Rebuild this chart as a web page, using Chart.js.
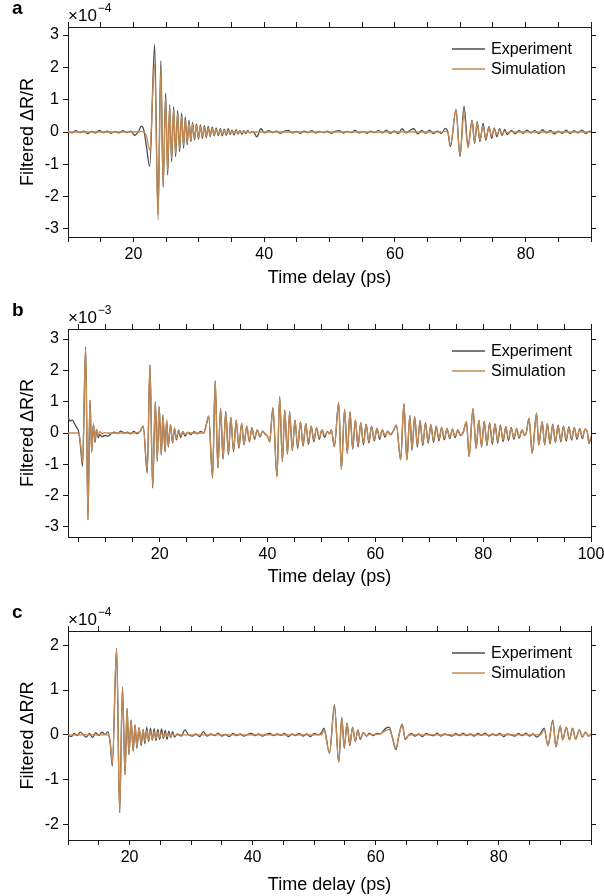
<!DOCTYPE html>
<html lang="en">
<head>
<meta charset="UTF-8" />
<title>Filtered ΔR/R vs time delay</title>
<script src="https://cdn.jsdelivr.net/npm/chart.js"></script>
<style>
  html, body { margin: 0; padding: 0; background: #fff; }
  canvas { display: block; }
</style>
</head>
<body>
  <canvas id="chartA" width="604" height="296"></canvas>
  <canvas id="chartB" width="604" height="296"></canvas>
  <canvas id="chartC" width="604" height="304"></canvas>

<script>
// ---------- panel a (x10^-4) ----------
const timeA = [
  10, 10.6, 11.2, 11.8, 12.4, 13, 13.6, 14.2, 14.8, 15.4, 16, 16.6, 17.2, 17.8, 18.4, 19, 19.6, 20.2,
  20.8, 21.2, 21.6, 22.0, 22.5,
  23.25, 23.77, 24.2, 24.55, 24.94, 25.24, 25.55, 25.85, 26.16, 26.46, 26.77, 27.07, 27.38, 27.68, 27.94, 28.24,
  28.5, 28.8, 29.05, 29.35, 29.65, 29.97, 30.25, 30.55, 30.85, 31.15, 31.45, 31.75, 32.05, 32.36, 32.67, 33.0,
  33.3, 33.6, 33.9, 34.2, 34.5, 34.8, 35.1, 35.4, 35.7, 36.0, 36.3, 36.6, 36.9, 37.2, 37.5, 37.8,
  38.3, 38.9, 39.5, 40.1, 40.7, 41.3, 41.9, 42.5, 43.1, 43.7, 44.3, 44.9, 45.5, 46.1, 46.7, 47.3, 47.9, 48.5, 49.1, 49.7,
  50.3, 50.9, 51.5, 52.1, 52.7, 53.3, 53.9, 54.5, 55.1, 55.7, 56.3, 56.9, 57.5, 58.1, 58.7, 59.3, 59.9, 60.5, 61.1, 61.7,
  62.3, 62.9, 63.5, 64.1, 64.7, 65.3, 65.9,
  66.5, 67.1, 67.7, 68.1, 68.5, 69.35, 69.96, 70.57, 71.2, 71.8, 72.2, 72.6, 73.0, 73.5, 73.9, 74.4, 74.8, 75.2,
  75.6, 76.0, 76.4, 76.8, 77.2, 77.8,
  78.4, 79.0, 79.6, 80.2, 80.8, 81.4, 82.0, 82.6, 83.2, 83.8, 84.4, 85.0, 85.6, 86.2, 86.8, 87.4, 88.0, 88.6, 89.2, 89.8, 90
];
const experimentA = [
  0.02, -0.03, 0.04, -0.02, 0.03, -0.05, 0.02, -0.03, 0.05, -0.02, 0.03, -0.04, 0.02, -0.03, 0.04, -0.02, 0.03, -0.1,
  0.02, 0.18, 0.06, -0.45, -1.07,
  2.7, -2.55, 2.2, -1.7, 1.2, -1.33, 0.84, -0.92, 0.78, -0.76, 0.66, -0.61, 0.58, -0.5, 0.47, -0.4,
  0.37, -0.3, 0.3, -0.25, 0.25, -0.22, 0.22, -0.2, 0.2, -0.17, 0.17, -0.14, 0.15, -0.12, 0.12, -0.11,
  0.1, -0.12, 0.09, -0.1, 0.1, -0.08, 0.06, -0.09, 0.07, -0.06, 0.05, -0.07, 0.04, -0.05, 0.05, -0.03,
  0.02, -0.15, 0.1, -0.03, 0.04, -0.02, 0.03, -0.04, 0.02, 0.05, -0.03, 0.02, -0.04, 0.03, -0.02, 0.04, -0.03, 0.02, -0.02, 0.03,
  -0.04, 0.02, 0.04, -0.03, 0.02, -0.02, 0.05, -0.03, 0.02, -0.04, 0.03, -0.02, 0.04, -0.03, 0.06, -0.04, 0.03, -0.05, 0.1, -0.03,
  0.05, 0.1, -0.06, 0.05, -0.04, 0.06, -0.05,
  0.03, -0.05, 0.11, 0.0, -0.45, 0.7, -0.76, 0.8, -0.45, 0.37, -0.35, 0.32, -0.3, 0.27, -0.25, 0.17, -0.2, 0.12,
  -0.15, 0.1, -0.1, 0.08, -0.08, 0.05,
  -0.06, 0.05, -0.04, 0.06, -0.03, 0.04, -0.05, 0.07, -0.03, 0.05, -0.06, 0.03, -0.04, 0.06, -0.05, 0.04, -0.03, 0.06, -0.05, 0.03, 0.0
];
const simulationA = [
  0, 0, 0, 0, 0, 0, 0, 0, 0, 0, 0, 0, 0, 0, 0, 0, 0, 0,
  0, 0.02, 0, -0.12, -0.56,
  2.1, -2.72, 1.95, -1.65, 1.05, -1.2, 0.78, -0.82, 0.68, -0.66, 0.56, -0.52, 0.48, -0.42, 0.38, -0.33,
  0.3, -0.26, 0.24, -0.21, 0.2, -0.18, 0.17, -0.15, 0.15, -0.13, 0.13, -0.11, 0.11, -0.09, 0.09, -0.08,
  0.07, -0.07, 0.06, -0.06, 0.05, -0.05, 0.04, -0.04, 0.035, -0.035, 0.03, -0.03, 0.02, -0.02, 0.015, -0.015,
  0, 0, 0, 0, 0, 0, 0, 0, 0, 0, 0, 0, 0, 0, 0, 0, 0, 0, 0, 0,
  0, 0, 0, 0, 0, 0, 0, 0, 0, 0, 0, 0, 0, 0, 0, 0, 0, 0, 0, 0,
  0, 0, 0, 0, 0, 0, 0,
  0, 0, 0.02, 0.0, -0.4, 0.68, -0.72, 0.55, -0.5, 0.35, -0.3, 0.28, -0.25, 0.2, -0.2, 0.15, -0.13, 0.1,
  -0.08, 0.06, -0.05, 0.03, -0.02, 0.01,
  0, 0, 0, 0, 0, 0, 0, 0, 0, 0, 0, 0, 0, 0, 0, 0, 0, 0, 0, 0, 0
];
const xTicksA = [10, 15, 20, 25, 30, 35, 40, 45, 50, 55, 60, 65, 70, 75, 80, 85, 90];
const xLabelsA = [20, 40, 60, 80];
const yTicksA = [-3, -2, -1, 0, 1, 2, 3];

// ---------- panel b (x10^-3) ----------
const timeB = [
  3.0, 3.4, 3.8, 4.2, 4.6, 5.0, 5.3,
  5.7, 6.27, 6.7, 7.07, 7.4, 7.72, 8.0, 8.3, 8.6, 8.9, 9.3, 9.8,
  10.4, 11.0, 11.6, 12.2, 12.8, 13.4, 14.0, 14.6, 15.2, 15.8, 16.4,
  16.95, 17.7, 18.2, 18.7, 19.2, 19.55, 19.9, 20.3, 20.6, 21.0, 21.3, 21.6, 22.0, 22.4, 22.75, 23.1, 23.5, 23.9, 24.3, 24.7,
  25.2, 25.8, 26.4, 27.0, 27.6, 28.2,
  28.7, 29.1, 29.8, 30.3, 30.8, 31.3, 31.76, 32.26, 32.75, 33.2, 33.7, 34.2, 34.7, 35.2, 35.65, 36.15, 36.65, 37.1, 37.6,
  38.1, 38.6, 39.1, 39.6,
  40.0, 40.4, 41.0, 41.76, 42.26, 42.76, 43.2, 43.7, 44.1, 44.6, 45.1, 45.6, 46.1, 46.6, 47.1, 47.6, 48.1, 48.6, 49.1,
  49.6, 50.1, 50.6, 51.1, 51.5,
  51.85, 52.4, 53.2, 53.7, 54.3, 54.8, 55.3, 55.8, 56.3, 56.8, 57.3, 57.8, 58.3, 58.8, 59.3, 59.8, 60.3, 60.8, 61.3,
  61.8, 62.3, 62.8, 63.3,
  63.9, 64.7, 65.3, 65.85, 66.4, 66.8, 67.3, 67.8, 68.3, 68.8, 69.3, 69.8, 70.3, 70.8, 71.3, 71.8, 72.3, 72.8, 73.3,
  73.8, 74.3, 74.8, 75.3, 75.8, 76.3,
  76.9, 77.4, 78.1, 78.7, 79.2, 79.7, 80.2, 80.7, 81.2, 81.7, 82.2, 82.7, 83.2, 83.7, 84.2, 84.7, 85.2, 85.7, 86.2,
  86.7, 87.2, 87.7, 88.0,
  88.5, 89.1, 89.9, 90.3, 90.95, 91.4, 91.9, 92.4, 92.9, 93.4, 93.9, 94.4, 94.9, 95.4, 95.9, 96.4, 96.9, 97.4, 97.9,
  98.4, 98.9, 99.3, 99.6, 100
];
const experimentB = [
  0.5, 0.38, 0.42, 0.3, 0.18, 0.02, -0.4,
  -1.07, 2.75, -2.77, 1.05, -0.6, 0.3, -0.3, 0.1, -0.15, -0.05, -0.12, -0.08,
  -0.1, -0.02, 0.03, -0.02, 0.06, 0.0, 0.03, -0.03, 0.05, -0.02, 0.06,
  0.22, -1.28, 2.17, -1.76, 1.0, -0.91, 0.84, -0.7, 0.57, -0.6, 0.41, -0.45, 0.27, -0.32, 0.15, -0.22, 0.08, -0.15, 0.05, -0.1,
  0.02, -0.05, 0.04, -0.03, 0.05, 0.0,
  0.3, 0.54, -1.44, 1.67, -1.12, 0.79, -0.84, 0.68, -0.7, 0.5, -0.6, 0.41, -0.49, 0.31, -0.38, 0.22, -0.28, 0.17, -0.2,
  0.1, -0.12, 0.06, -0.05,
  -0.1, -0.28, 0.8, -1.39, 1.16, -0.91, 0.73, -0.68, 0.68, -0.56, 0.41, -0.5, 0.36, -0.42, 0.3, -0.36, 0.22, -0.28, 0.17,
  -0.2, 0.1, -0.14, 0.05, -0.03,
  0.1, -0.44, 0.97, -1.16, 0.75, -0.65, 0.68, -0.52, 0.42, -0.45, 0.33, -0.38, 0.28, -0.32, 0.22, -0.25, 0.15, -0.2, 0.1,
  -0.13, 0.06, -0.06, 0.05,
  0.25, -0.86, 0.94, -0.86, 0.55, -0.55, 0.52, -0.45, 0.4, -0.4, 0.33, -0.33, 0.27, -0.3, 0.22, -0.25, 0.18, -0.22, 0.15,
  -0.18, 0.12, -0.15, 0.1, -0.08, 0.02,
  0.36, -0.75, 0.78, -0.49, 0.41, -0.44, 0.38, -0.4, 0.33, -0.36, 0.3, -0.32, 0.25, -0.28, 0.2, -0.24, 0.18, -0.2, 0.14,
  -0.16, 0.1, -0.08, 0.02,
  0.47, -0.65, 0.63, -0.38, 0.36, -0.38, 0.3, -0.35, 0.28, -0.3, 0.25, -0.28, 0.22, -0.26, 0.2, -0.23, 0.18, -0.2, 0.15,
  -0.18, 0.12, 0.05, -0.33, -0.15
];
const simulationB = [
  0, 0, 0, 0, 0, -0.02, -0.3,
  -0.95, 2.75, -2.77, 1.05, -0.62, 0.28, -0.25, 0.12, -0.08, 0.04, -0.03, 0.01,
  0, 0, 0, 0, 0, 0, 0, 0, 0, 0.01, 0.05,
  0.22, -1.2, 2.17, -1.7, 1.0, -0.88, 0.84, -0.68, 0.57, -0.55, 0.42, -0.41, 0.28, -0.28, 0.17, -0.18, 0.1, -0.1, 0.05, -0.05,
  0.02, 0, 0, 0, 0, 0.02,
  0.3, 0.54, -1.4, 1.67, -1.12, 0.79, -0.8, 0.68, -0.65, 0.5, -0.55, 0.41, -0.45, 0.31, -0.35, 0.22, -0.25, 0.15, -0.17,
  0.1, -0.1, 0.05, -0.03,
  -0.1, -0.28, 0.8, -1.39, 1.16, -0.91, 0.73, -0.65, 0.68, -0.54, 0.41, -0.44, 0.35, -0.38, 0.3, -0.3, 0.22, -0.22, 0.16,
  -0.15, 0.1, -0.08, 0.04, -0.02,
  0.08, -0.42, 0.97, -1.16, 0.75, -0.65, 0.65, -0.5, 0.42, -0.4, 0.33, -0.33, 0.27, -0.27, 0.2, -0.2, 0.15, -0.15, 0.1,
  -0.08, 0.05, -0.04, 0.05,
  0.25, -0.86, 0.94, -0.86, 0.55, -0.5, 0.5, -0.4, 0.38, -0.35, 0.3, -0.28, 0.25, -0.24, 0.2, -0.2, 0.16, -0.17, 0.13,
  -0.13, 0.1, -0.1, 0.08, -0.06, 0.02,
  0.36, -0.75, 0.78, -0.49, 0.41, -0.42, 0.36, -0.35, 0.3, -0.3, 0.27, -0.26, 0.22, -0.22, 0.18, -0.18, 0.15, -0.15, 0.12,
  -0.12, 0.08, -0.06, 0.0,
  0.47, -0.65, 0.63, -0.38, 0.36, -0.35, 0.3, -0.3, 0.26, -0.26, 0.22, -0.23, 0.2, -0.2, 0.18, -0.18, 0.16, -0.15, 0.14,
  -0.13, 0.12, 0.05, -0.3, -0.1
];
const xTicksB = [5, 10, 15, 20, 25, 30, 35, 40, 45, 50, 55, 60, 65, 70, 75, 80, 85, 90, 95, 100];
const xLabelsB = [20, 40, 60, 80, 100];
const yTicksB = [-3, -2, -1, 0, 1, 2, 3];

// ---------- panel c (x10^-4) ----------
const timeC = [
  10, 10.5, 11, 11.5, 12, 12.5, 13, 13.5, 14, 14.5, 15, 15.5, 16, 16.5,
  16.9, 17.2, 17.9, 18.4, 18.85, 19.27, 19.6, 19.9, 20.25, 20.6, 20.9, 21.2, 21.55, 21.9, 22.2, 22.5,
  22.8, 23.1, 23.4, 23.7, 24.0, 24.3, 24.6, 24.9, 25.2, 25.5, 25.8, 26.1, 26.4, 26.7, 27.0, 27.3,
  27.8, 28.4, 29.0, 29.6, 30.2, 30.8, 31.4, 32.0, 32.6, 33.2, 33.8, 34.4, 35.0, 35.6, 36.2, 36.8, 37.4, 38.0, 38.6, 39.2,
  39.8, 40.4, 41.0, 41.6, 42.2, 42.8, 43.4, 44.0, 44.6, 45.2, 45.8, 46.4, 47.0, 47.6, 48.2, 48.8, 49.4, 50.0, 50.6, 51.2,
  51.6, 52.5, 53.3, 54.0, 54.5, 54.9, 55.35, 55.8, 56.25, 56.7, 57.1, 57.5, 58.0, 58.5, 59.0, 59.6, 60.2, 60.8, 61.2, 61.7,
  62.2, 62.7, 63.3, 63.8, 64.3, 64.8, 65.3, 65.8,
  66.4, 67.0, 67.6, 68.2, 68.8, 69.4, 70.0, 70.6, 71.2, 71.8, 72.4, 73.0, 73.6, 74.2, 74.8, 75.4, 76.0, 76.6, 77.2, 77.8,
  78.4, 79.0, 79.6, 80.2, 80.8, 81.4, 82.0, 82.6, 83.2, 83.8, 84.4, 85.0, 85.6, 86.2, 86.8,
  87.4, 88.0, 88.8, 89.3, 90.0, 90.4, 91.0, 91.5, 92.0, 92.5, 93.1, 93.6, 94.1, 94.6, 95.0
];
const experimentC = [
  0.0, -0.04, 0.03, -0.02, 0.06, 0.0, -0.05, 0.03, -0.06, 0.05, -0.02, 0.06, 0.01, 0.07,
  -0.25, -0.7, 1.93, -1.74, 1.07, -0.89, 0.59, -0.44, 0.33, -0.37, 0.22, -0.3, 0.16, -0.24, 0.12, -0.2,
  0.17, -0.15, 0.15, -0.12, 0.14, -0.13, 0.12, -0.1, 0.13, -0.08, 0.1, -0.1, 0.08, -0.06, 0.07, -0.05,
  0.02, -0.03, 0.11, 0.0, -0.03, 0.02, -0.04, 0.07, -0.03, 0.02, -0.02, 0.04, -0.03, 0.01, -0.04, 0.03, -0.02, 0.02, -0.03, 0.01,
  0.03, -0.02, 0.02, -0.03, 0.01, 0.03, -0.02, 0.02, -0.01, 0.03, -0.04, 0.02, -0.02, 0.03, -0.03, 0.02, -0.04, 0.03, 0.0, 0.05,
  0.15, -0.41, 0.67, -0.61, 0.39, -0.3, 0.26, -0.24, 0.17, -0.15, 0.11, -0.1, 0.05, -0.03, 0.04, -0.02, 0.03, 0.02, 0.08, 0.15,
  0.17, -0.05, -0.33, 0.0, 0.24, -0.1, -0.02, 0.03,
  -0.03, 0.02, -0.04, 0.03, 0.0, -0.02, 0.04, -0.03, 0.02, 0.0, -0.03, 0.03, -0.02, 0.04, -0.02, 0.02, -0.03, 0.03, -0.01, 0.04,
  -0.03, 0.02, -0.02, 0.03, -0.04, 0.02, 0.0, -0.03, 0.03, -0.02, 0.04, -0.03, 0.02, -0.05, 0.03,
  0.15, -0.24, 0.33, -0.27, 0.2, -0.11, 0.17, -0.11, 0.15, -0.1, 0.11, -0.05, 0.06, -0.03, 0.02
];
const simulationC = [
  0, 0, 0, 0, 0, 0, 0, 0, 0, 0, 0, 0, 0, 0,
  -0.2, -0.65, 1.93, -1.74, 1.07, -0.89, 0.59, -0.44, 0.33, -0.35, 0.22, -0.27, 0.16, -0.2, 0.12, -0.15,
  0.1, -0.12, 0.08, -0.1, 0.07, -0.08, 0.06, -0.06, 0.05, -0.05, 0.04, -0.04, 0.03, -0.03, 0.02, -0.02,
  0, 0, 0, 0, 0, 0, 0, 0, 0, 0, 0, 0, 0, 0, 0, 0, 0, 0, 0, 0,
  0, 0, 0, 0, 0, 0, 0, 0, 0, 0, 0, 0, 0, 0, 0, 0, 0, 0, 0, 0,
  0.1, -0.41, 0.62, -0.61, 0.37, -0.28, 0.25, -0.22, 0.16, -0.14, 0.1, -0.08, 0.04, -0.02, 0.01, 0.0, 0.01, 0.03, 0.06, 0.1,
  0.12, -0.05, -0.3, 0.0, 0.22, -0.08, -0.02, 0.0,
  0, 0, 0, 0, 0, 0, 0, 0, 0, 0, 0, 0, 0, 0, 0, 0, 0, 0, 0, 0,
  0, 0, 0, 0, 0, 0, 0, 0, 0, 0, 0, 0, 0, 0, 0,
  0.12, -0.24, 0.3, -0.27, 0.2, -0.11, 0.17, -0.11, 0.14, -0.1, 0.1, -0.05, 0.05, -0.03, 0.02
];
const xTicksC = [10, 15, 20, 25, 30, 35, 40, 45, 50, 55, 60, 65, 70, 75, 80, 85, 90, 95];
const xLabelsC = [20, 40, 60, 80];
const yTicksC = [-2, -1, 0, 1, 2];

// ---------- drawing ----------
const FONT = "'Liberation Sans', Arial, Helvetica, sans-serif";
const EXP_COLOR = '#4d4d4d';
const SIM_COLOR = '#c68b53';
const AXIS_COLOR = '#1a1a1a';

function fixTicks(values) {
  return scale => { scale.ticks = values.map(v => ({ value: v })); };
}

function sizeTo(prop, size) {
  return scale => {
    scale[prop] = size;
    scale.paddingLeft = 0; scale.paddingRight = 0;
    scale.paddingTop = 0; scale.paddingBottom = 0;
  };
}

function buildPanel(id, p) {
  const points = vals => p.time.map((t, i) => ({ x: t, y: vals[i] }));
  const grid = { display: true, drawOnChartArea: false, drawTicks: true, tickLength: 5, color: AXIS_COLOR, lineWidth: 1 };
  const border = { display: true, color: AXIS_COLOR, width: 1 };

  const decor = {
    id: 'decor',
    afterDraw(chart) {
      const ctx = chart.ctx;
      const area = chart.chartArea;
      ctx.save();
      ctx.fillStyle = '#000';
      ctx.textAlign = 'left';
      ctx.textBaseline = 'alphabetic';

      ctx.font = 'bold 19px ' + FONT;
      ctx.fillText(p.letter, 12, area.top - 13);

      ctx.font = '17px ' + FONT;
      ctx.fillText('×10', area.left, area.top - 6);
      const w = ctx.measureText('×10').width;
      ctx.font = '12px ' + FONT;
      ctx.fillText('−' + p.power, area.left + w + 1, area.top - 15);

      // legend
      const rows = [['Experiment', EXP_COLOR], ['Simulation', SIM_COLOR]];
      ctx.font = '16px ' + FONT;
      ctx.textBaseline = 'middle';
      rows.forEach(([label, color], i) => {
        const y = area.top + 22 + i * 20;
        ctx.strokeStyle = color;
        ctx.lineWidth = 1.6;
        ctx.beginPath();
        ctx.moveTo(452, y);
        ctx.lineTo(485, y);
        ctx.stroke();
        ctx.fillText(label, 491, y + 1);
      });
      ctx.restore();
    }
  };

  new Chart(document.getElementById(id), {
    type: 'line',
    data: {
      datasets: [
        { label: 'Experiment', data: points(p.experiment), borderColor: EXP_COLOR, borderWidth: 1.3, order: 2 },
        { label: 'Simulation', data: points(p.simulation), borderColor: SIM_COLOR, borderWidth: 1.3, order: 1 }
      ]
    },
    options: {
      responsive: false,
      animation: false,
      devicePixelRatio: 1,
      layout: { padding: { top: p.padTop, right: 7, bottom: 0, left: 0 } },
      elements: {
        point: { radius: 0, hoverRadius: 0 },
        line: { cubicInterpolationMode: 'monotone', fill: false }
      },
      plugins: { legend: { display: false }, tooltip: { enabled: false } },
      scales: {
        x: {
          type: 'linear', position: 'bottom', min: p.xMin, max: p.xMax,
          afterBuildTicks: fixTicks(p.xTicks),
          afterFit: sizeTo('height', p.xHeight),
          grid, border,
          ticks: {
            autoSkip: false, maxRotation: 0, padding: 3, color: '#000',
            font: { family: FONT, size: 16 },
            callback: v => p.xLabels.includes(v) ? String(v) : ''
          },
          title: {
            display: true, text: 'Time delay (ps)', color: '#000',
            font: { family: FONT, size: 18 },
            padding: { top: 0, bottom: p.titlePad }
          }
        },
        x2: {
          type: 'linear', position: 'top', min: p.xMin, max: p.xMax,
          afterBuildTicks: fixTicks(p.xTicks),
          afterFit: sizeTo('height', 6),
          grid, border,
          ticks: { display: false }
        },
        y: {
          type: 'linear', position: 'left', min: p.yMin, max: p.yMax,
          afterBuildTicks: fixTicks(p.yTicks),
          afterFit: sizeTo('width', 68),
          grid, border,
          ticks: { padding: 4, color: '#000', font: { family: FONT, size: 16 }, callback: v => String(v) },
          title: {
            display: true, text: 'Filtered ΔR/R', color: '#000',
            font: { family: FONT, size: 18 },
            padding: { top: 17, bottom: 0 }
          }
        },
        y2: {
          type: 'linear', position: 'right', min: p.yMin, max: p.yMax,
          afterBuildTicks: fixTicks(p.yTicks),
          afterFit: sizeTo('width', 6),
          grid, border,
          ticks: { display: false }
        }
      }
    },
    plugins: [decor]
  });
}

buildPanel('chartA', {
  letter: 'a', power: '4',
  time: timeA, experiment: experimentA, simulation: simulationA,
  xMin: 10, xMax: 90, xTicks: xTicksA, xLabels: xLabelsA,
  yMin: -3.25, yMax: 3.25, yTicks: yTicksA,
  padTop: 21, xHeight: 59, titlePad: 7
});
buildPanel('chartB', {
  letter: 'b', power: '3',
  time: timeB, experiment: experimentB, simulation: simulationB,
  xMin: 3, xMax: 100, xTicks: xTicksB, xLabels: xLabelsB,
  yMin: -3.32, yMax: 3.32, yTicks: yTicksB,
  padTop: 27, xHeight: 55, titlePad: 4
});
buildPanel('chartC', {
  letter: 'c', power: '4',
  time: timeC, experiment: experimentC, simulation: simulationC,
  xMin: 10, xMax: 95, xTicks: xTicksC, xLabels: xLabelsC,
  yMin: -2.35, yMax: 2.32, yTicks: yTicksC,
  padTop: 33, xHeight: 56, titlePad: 0
});
</script>
</body>
</html>
